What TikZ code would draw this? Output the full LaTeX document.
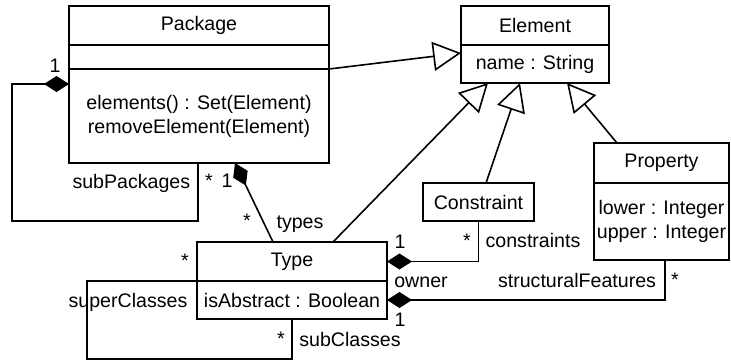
\documentclass[tikz,border=0pt]{standalone}
\usepackage{fontspec}
\setmainfont{Liberation Sans}
\usetikzlibrary{positioning,arrows.meta}
\begin{document}
\begin{tikzpicture}[x=0.5pt, y=-0.5pt, line width=0.8pt,
    every node/.style={font=\fontsize{9.8pt}{12pt}\selectfont},
    box/.style={draw, inner sep=0pt, outer sep=0pt, align=center},
    lbl/.style={inner sep=0pt, anchor=base},
    gen/.style={-{Triangle[length=14pt,width=14.5pt,fill=white]}},
    comp/.style={{Diamond[length=12.5pt,width=8pt]}-}]
    \useasboundingbox (0,0) rectangle (731,361);

    \node [box, anchor=north west, minimum width=130pt, minimum height=19.5pt] (pkg) at (69,6) {Package};
    \node [box, below=0pt of pkg, minimum width=130pt, minimum height=12pt] (pkgattr) {};
    \node [box, below=0pt of pkgattr, minimum width=130pt, minimum height=47pt] (pkgops) {elements() : Set(Element)\\removeElement(Element)};

    \node [box, anchor=north west, minimum width=74pt, minimum height=19.5pt] (elem) at (461,6) {Element};
    \node [box, below=0pt of elem, minimum width=74pt, minimum height=19pt] (elemattr) {name : String};

    \node [box, anchor=north west, minimum width=95pt, minimum height=19.5pt] (type) at (197,242) {Type};
    \node [box, below=0pt of type, minimum width=95pt, minimum height=19pt] (typeattr) {isAbstract : Boolean};

    \node [box, anchor=north west, minimum width=55.5pt, minimum height=19pt] (constraint) at (423,183) {Constraint};

    \node [box, anchor=north west, minimum width=67.5pt, minimum height=20pt] (prop) at (594,143) {Property};
    \node [box, below=0pt of prop, minimum width=67.5pt, minimum height=38.5pt] (propattr) {lower : Integer\\upper : Integer};

    \draw [gen] (pkgops.north east) -- ([yshift=-4pt]elemattr.north west);
    \draw [gen] ([xshift=68pt]type.north west) -- ([xshift=13.5pt]elemattr.south west);
    \draw [gen] ([xshift=31.5pt]constraint.north west) -- ([xshift=29.5pt]elemattr.south west);
    \draw [gen] ([xshift=11.5pt]prop.north west) -- ([xshift=53pt]elemattr.south west);

    \coordinate (pkgloop) at (12,221);
    \draw [comp] ([yshift=-7.5pt]pkgops.north west) -| (pkgloop) -| ([xshift=64.5pt]pkgops.south west);
    \draw [comp] ([xshift=83pt]pkgops.south west) -- ([xshift=38pt]type.north west);
    \draw [comp] (type.east) -| (constraint.south);
    \draw [comp] (typeattr.east) -| ([xshift=35.5pt]propattr.south west);
    \coordinate (typeloop) at (87,359);
    \draw (typeattr.north west) -| (typeloop) -| (typeattr.south);

    \node [lbl] (pkgone) at (55,72) {1};
    \node [lbl, anchor=base east] (subpkg) at (191,188) {subPackages};
    \node [lbl] (subpkgmany) at (209,187) {*};
    \node [lbl] (typesone) at (227,187) {1};
    \node [lbl] (typesmany) at (247,227) {*};
    \node [lbl] (types) at (300,228) {types};
    \node [lbl] (ownerone) at (400,248) {1};
    \node [lbl] (constrmany) at (467,247) {*};
    \node [lbl] (constr) at (533,247) {constraints};
    \node [lbl] (owner) at (421,287) {owner};
    \node [lbl] (ownertwo) at (400,326) {1};
    \node [lbl] (features) at (577,287) {structuralFeatures};
    \node [lbl] (featmany) at (675,286) {*};
    \node [lbl] (superc) at (128,307) {superClasses};
    \node [lbl] (supermany) at (185,267) {*};
    \node [lbl] (submany) at (281,345) {*};
    \node [lbl] (subc) at (350,346) {subClasses};
\end{tikzpicture}
\end{document}
